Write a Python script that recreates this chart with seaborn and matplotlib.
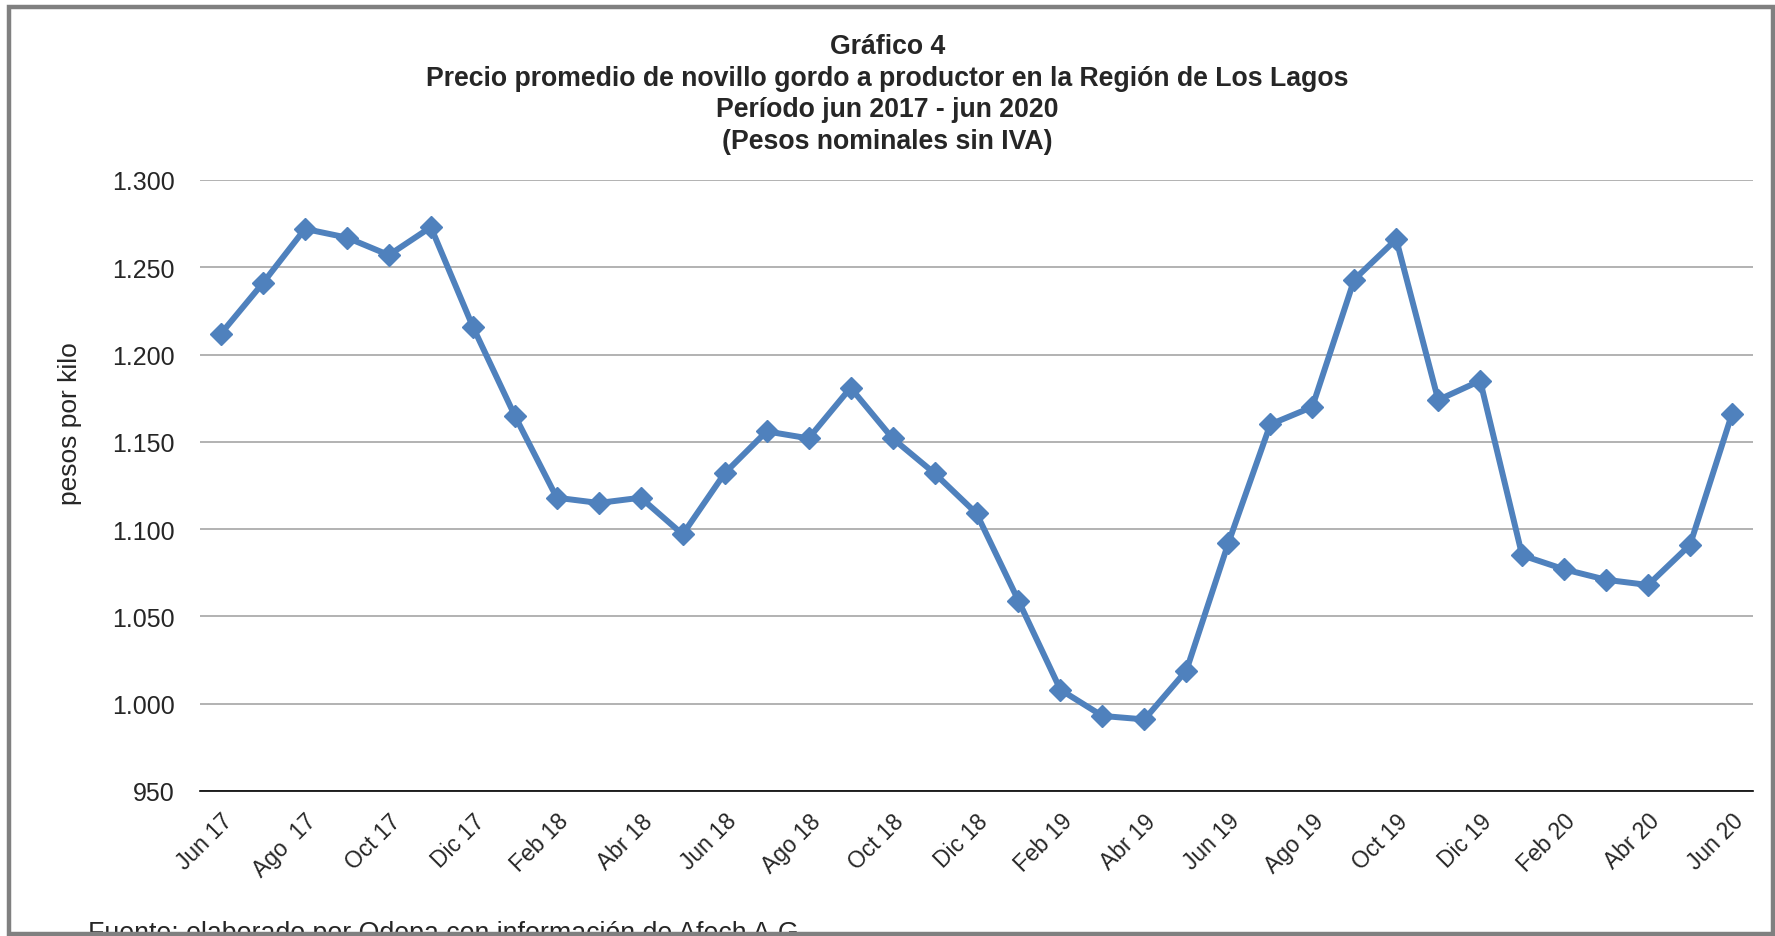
import matplotlib
matplotlib.use('Agg')
import pandas as pd
import matplotlib.pyplot as plt
import matplotlib.transforms as mtransforms
import seaborn as sns
from matplotlib.patches import Rectangle
from matplotlib.ticker import FuncFormatter

# Monthly labels, jun 2017 - jun 2020
meses = ['Jun 17', 'Jul 17', 'Ago  17', 'Sep 17', 'Oct 17', 'Nov 17', 'Dic 17',
         'Ene 18', 'Feb 18', 'Mar 18', 'Abr 18', 'May 18', 'Jun 18', 'Jul 18',
         'Ago 18', 'Sep 18', 'Oct 18', 'Nov 18', 'Dic 18',
         'Ene 19', 'Feb 19', 'Mar 19', 'Abr 19', 'May 19', 'Jun 19', 'Jul 19',
         'Ago 19', 'Sep 19', 'Oct 19', 'Nov 19', 'Dic 19',
         'Ene 20', 'Feb 20', 'Mar 20', 'Abr 20', 'May 20', 'Jun 20']

# Average price (pesos por kilo)
precio = [1212, 1241, 1272, 1267, 1257, 1273, 1216,
          1165, 1118, 1115, 1118, 1097, 1132, 1156,
          1152, 1181, 1152, 1132, 1109,
          1059, 1008, 993, 991, 1019, 1092, 1160,
          1170, 1243, 1266, 1174, 1185,
          1085, 1077, 1071, 1068, 1091, 1166]

y_ticks = [950, 1000, 1050, 1100, 1150, 1200, 1250, 1300]

titulo = ('Gráfico 4\n'
          'Precio promedio de novillo gordo a productor en la Región de Los Lagos\n'
          'Período jun 2017 - jun 2020\n'
          '(Pesos nominales sin IVA)')
fuente = 'Fuente: elaborado por Odepa con información de Afech A.G.'

df = pd.DataFrame({'idx': range(len(meses)), 'mes': meses, 'precio': precio})

sns.set_style('white')
plt.rcParams['font.family'] = ['Liberation Sans', 'DejaVu Sans']

W, H = 1775, 937
fig = plt.figure(figsize=(W / 100, H / 100), dpi=100)
ax = fig.add_axes([200 / W, 1 - 792 / H, 1553 / W, 611 / H])

sns.lineplot(data=df, x='idx', y='precio', ax=ax, color='#4F81BD',
             linewidth=4.3, marker='D', markersize=11, markeredgewidth=1,
             markeredgecolor='#4F81BD', zorder=3)

ax.set_xlim(-0.5, len(meses) - 0.5)
ax.set_ylim(950, 1300)
ax.set_yticks(y_ticks)
ax.yaxis.set_major_formatter(FuncFormatter(lambda v, p: f'{v:,.0f}'.replace(',', '.')))
ax.set_xticks(range(0, len(meses), 2))
ax.set_xticklabels(meses[::2], rotation=45, ha='right', va='top',
                   rotation_mode='anchor')
shift = mtransforms.ScaledTranslation(-22 / 100, 0, fig.dpi_scale_trans)
for lbl in ax.get_xticklabels():
    lbl.set_transform(lbl.get_transform() + shift)
ax.tick_params(axis='y', length=0, pad=18, labelsize=18)
ax.tick_params(axis='x', length=0, pad=13, labelsize=16.5)
ax.grid(axis='y', color='#A6A6A6', linewidth=1.2)
ax.set_axisbelow(True)
for s in ['top', 'right', 'left']:
    ax.spines[s].set_visible(False)
ax.spines['bottom'].set_color('black')
ax.spines['bottom'].set_linewidth(1.2)
ax.set_xlabel('')
ax.set_ylabel('')

# Title and labels
fig.text(0.5, 1 - 34 / H, titulo, ha='center', va='top', fontsize=19.2,
         fontweight='bold', linespacing=1.28)
fig.text(70 / W, 1 - 424 / H, 'pesos por kilo', rotation=90, ha='center',
         va='center', fontsize=19)
fig.text(88 / W, 1 - 921 / H, fuente, ha='left', va='top', fontsize=19.3)

# Frame clipping the source note
fig.patches.append(Rectangle((0, 0), 1, 4 / H, transform=fig.transFigure,
                             facecolor='white', edgecolor='none', zorder=10))
fig.patches.append(Rectangle((8.5 / W, 2.5 / H), 1 - 11 / W, 1 - 10 / H,
                             transform=fig.transFigure, fill=False,
                             edgecolor='#808080', linewidth=3.2, zorder=11))

fig.savefig('out.png', dpi=100)
